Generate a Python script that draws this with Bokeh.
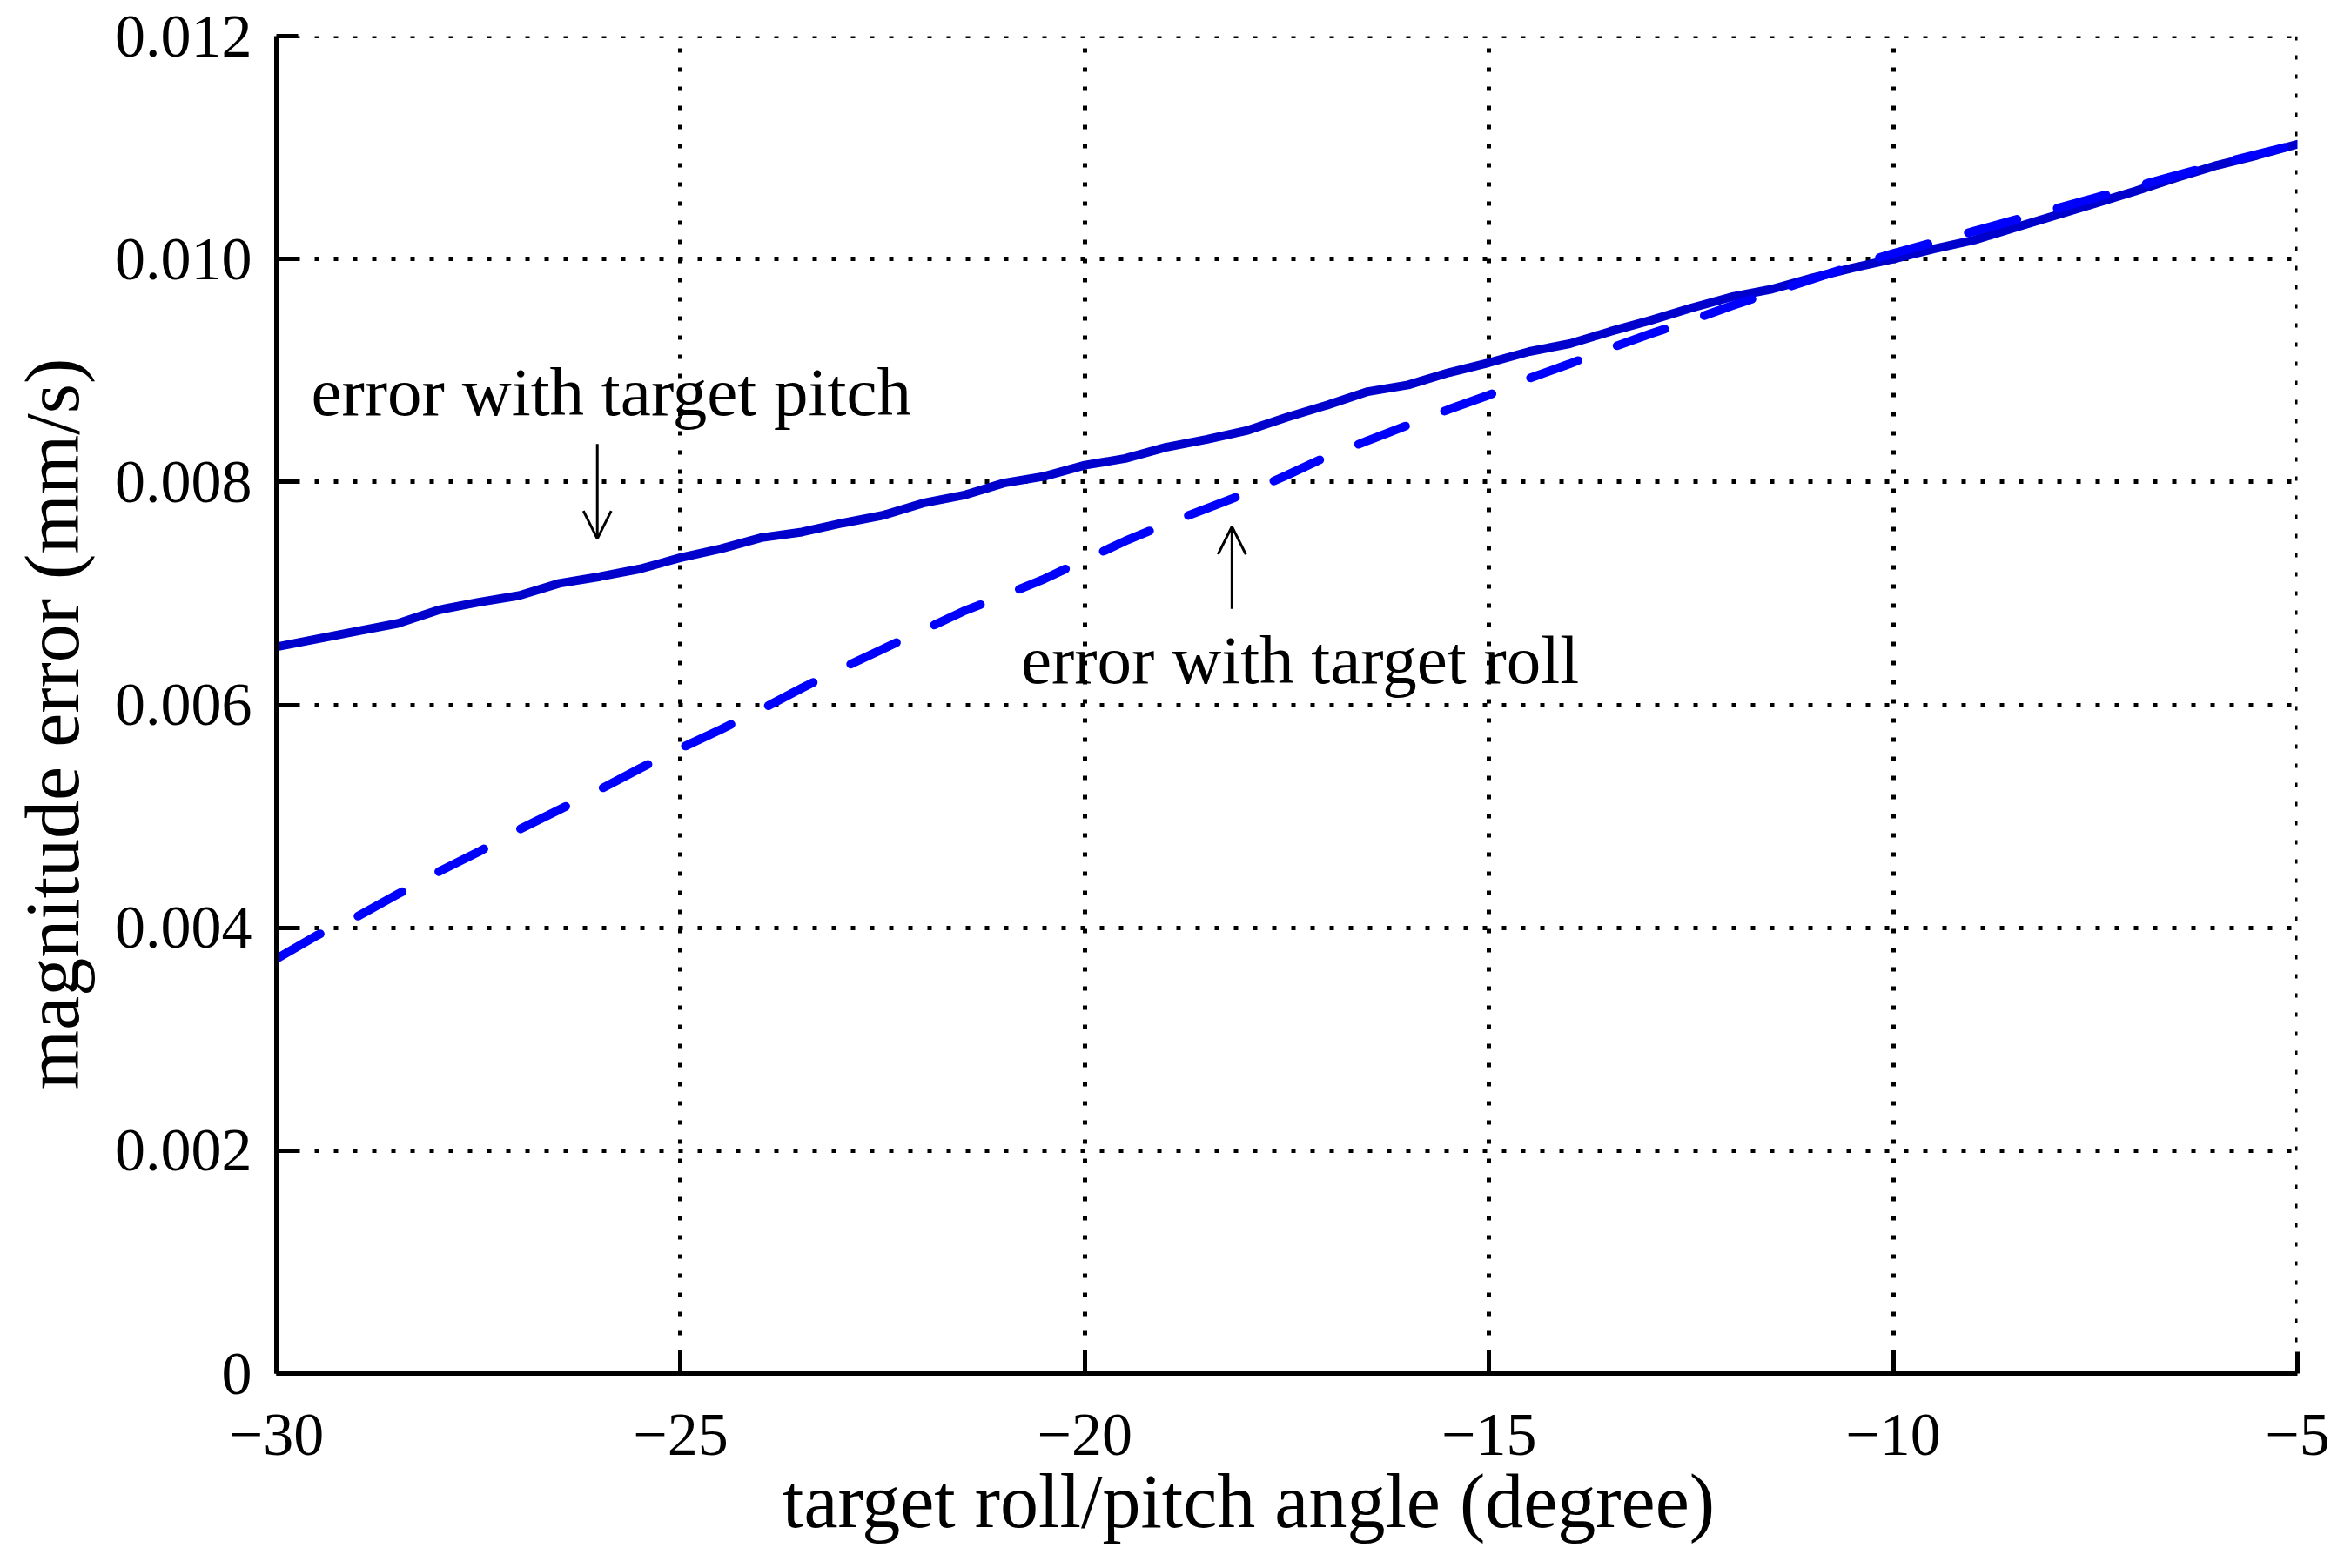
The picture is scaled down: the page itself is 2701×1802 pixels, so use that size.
from bokeh.plotting import figure
from bokeh.models import Range1d, FixedTicker, Arrow, OpenHead, Label, ColumnDataSource, Span
from bokeh.embed import file_html
from bokeh.resources import INLINE

# ---- data ----
angle = [-30, -29.5, -29, -28.5, -28, -27.5, -27, -26.5, -26, -25.5,
         -25, -24.5, -24, -23.5, -23, -22.5, -22, -21.5, -21, -20.5,
         -20, -19.5, -19, -18.5, -18, -17.5, -17, -16.5, -16, -15.5,
         -15, -14.5, -14, -13.5, -13, -12.5, -12, -11.5, -11, -10.5,
         -10, -9.5, -9, -8.5, -8, -7.5, -7, -6.5, -6, -5.5, -5]

pitch_err = [0.00652, 0.00659, 0.00666, 0.00673, 0.00685, 0.00692, 0.00698, 0.00709, 0.00715, 0.00722,
             0.00732, 0.00740, 0.00750, 0.00755, 0.00763, 0.00770, 0.00781, 0.00788, 0.00799, 0.00805,
             0.00815, 0.00821, 0.00831, 0.00838, 0.00846, 0.00858, 0.00869, 0.00881, 0.00887, 0.00898,
             0.00907, 0.00917, 0.00924, 0.00935, 0.00945, 0.00956, 0.00966, 0.00973, 0.00983, 0.00992,
             0.01000, 0.01009, 0.01017, 0.01028, 0.01039, 0.01050, 0.01061, 0.01073, 0.01084, 0.01093, 0.01103]

roll_err = [0.00372, 0.00393, 0.00410, 0.00430, 0.00450, 0.00468, 0.00488, 0.00506, 0.00524, 0.00543,
            0.00561, 0.00578, 0.00596, 0.00615, 0.00633, 0.00650, 0.00667, 0.00684, 0.00698, 0.00713,
            0.00730, 0.00747, 0.00762, 0.00776, 0.00790, 0.00806, 0.00823, 0.00837, 0.00851, 0.00865,
            0.00878, 0.00893, 0.00906, 0.00920, 0.00933, 0.00945, 0.00958, 0.00970, 0.00982, 0.00994,
            0.01005, 0.01015, 0.01025, 0.01035, 0.01045, 0.01055, 0.01065, 0.01075, 0.01085, 0.01094, 0.01103]

x_ticks = [-30, -25, -20, -15, -10, -5]
x_tick_labels = ["\u221230", "\u221225", "\u221220", "\u221215", "\u221210", "\u22125"]
y_ticks = [0, 0.002, 0.004, 0.006, 0.008, 0.010, 0.012]
y_tick_labels = ["0", "0.002", "0.004", "0.006", "0.008", "0.010", "0.012"]

x_label = "target roll/pitch angle (degree)"
y_label = "magnitude error (mm/s)"
pitch_note = "error with target pitch"
roll_note = "error with target roll"

FONT = "Liberation Serif"
NBSP = "\u00a0"

p = figure(width=2693, height=1794,
           x_range=Range1d(-30, -5), y_range=Range1d(0, 0.012),
           output_backend="svg", toolbar_location=None,
           min_border_left=317, min_border_right=54,
           min_border_top=41, min_border_bottom=216)
p.outline_line_color = None
p.background_fill_color = "white"
p.border_fill_color = "white"

# axes
for ax, ticks, labels in ((p.xaxis, x_ticks, x_tick_labels), (p.yaxis, y_ticks, y_tick_labels)):
    ax.ticker = FixedTicker(ticks=ticks)
    ax.major_label_overrides = {t: l for t, l in zip(ticks, labels)}
    ax.axis_line_width = 5
    ax.axis_line_color = "black"
    ax.major_tick_in = 25
    ax.major_tick_out = 0
    ax.major_tick_line_width = 5
    ax.major_tick_line_color = "black"
    ax.minor_tick_line_color = None
    ax.major_label_text_font = FONT
    ax.major_label_text_font_size = "70px"
    ax.major_label_text_color = "black"
    ax.axis_label_text_font = FONT
    ax.axis_label_text_font_size = "88px"
    ax.axis_label_text_font_style = "normal"
    ax.axis_label_text_color = "black"

p.xaxis.major_label_standoff = 47
p.yaxis.major_label_standoff = 28
# trailing no-break spaces shift the centred titles to where the reference has them
p.xaxis.axis_label = x_label + NBSP * 4
p.yaxis.axis_label = y_label + NBSP * 2
p.xaxis.axis_label_standoff = 2
p.yaxis.axis_label_standoff = 20

# dotted grid
p.xgrid.ticker = FixedTicker(ticks=x_ticks)
p.ygrid.ticker = FixedTicker(ticks=y_ticks)
for g in (p.xgrid, p.ygrid):
    g.grid_line_color = "black"
    g.grid_line_width = 5
    g.grid_line_dash = "5 17"

# the dotted grid lines at the far ends (top and right edges of the box)
p.add_layout(Span(location=y_ticks[-1], dimension="width", line_color="black",
                  line_width=5, line_dash="5 17"))
p.add_layout(Span(location=x_ticks[-1], dimension="height", line_color="black",
                  line_width=5, line_dash="5 17"))

src = ColumnDataSource(dict(angle=angle, pitch=pitch_err, roll=roll_err))
p.line("angle", "pitch", source=src, line_color="#0000CC", line_width=10,
       line_join="round", line_cap="round")
p.line("angle", "roll", source=src, line_color="#0000FF", line_width=10,
       line_dash="58 48", line_join="round", line_cap="round")

# annotations
p.add_layout(Label(x=-29.57, y=0.00881, text=pitch_note, text_font=FONT,
                   text_font_size="79px", text_color="black", text_baseline="alphabetic"))
p.add_layout(Label(x=-20.79, y=0.00640, text=roll_note, text_font=FONT,
                   text_font_size="79px", text_color="black", text_baseline="alphabetic"))

p.add_layout(Arrow(end=OpenHead(size=32, line_width=3, line_color="black"),
                   x_start=-26.03, y_start=0.00834, x_end=-26.03, y_end=0.00749,
                   line_width=3, line_color="black"))
p.add_layout(Arrow(end=OpenHead(size=32, line_width=3, line_color="black"),
                   x_start=-18.18, y_start=0.00686, x_end=-18.18, y_end=0.00760,
                   line_width=3, line_color="black"))

open("out.html", "w").write(file_html(p, INLINE))
